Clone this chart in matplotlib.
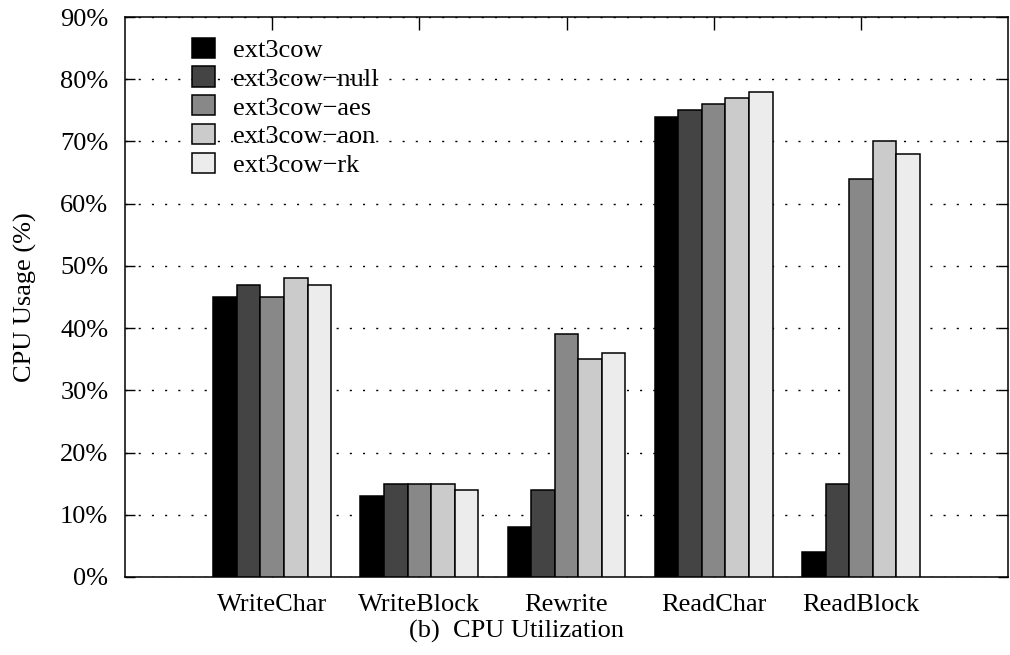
import numpy as np
import matplotlib
matplotlib.use('Agg')
import matplotlib.pyplot as plt

plt.rcParams['font.family'] = ['Liberation Serif', 'DejaVu Serif']

# 测试项与文件系统变体
categories = ['WriteChar', 'WriteBlock', 'Rewrite', 'ReadChar', 'ReadBlock']
systems = ['ext3cow', 'ext3cow\u2212null', 'ext3cow\u2212aes', 'ext3cow\u2212aon', 'ext3cow\u2212rk']
colors = ['#000000', '#444444', '#888888', '#cbcbcb', '#ececec']

# CPU 占用率 (%)
ext3cow = [45, 13, 8, 74, 4]
ext3cow_null = [47, 15, 14, 75, 15]
ext3cow_aes = [45, 15, 39, 76, 64]
ext3cow_aon = [48, 15, 35, 77, 70]
ext3cow_rk = [47, 14, 36, 78, 68]
series = [ext3cow, ext3cow_null, ext3cow_aes, ext3cow_aon, ext3cow_rk]

yticks = np.arange(0, 91, 10)
ytick_labels = ['%d%%' % v for v in yticks]

fs = 19
fig = plt.figure(figsize=(10.1, 6.55), dpi=100)
ax = fig.add_axes([0.1238, 0.1191, 0.8742, 0.8549])

x = np.arange(1, len(categories) + 1)
width = 0.16
for i, (vals, name, c) in enumerate(zip(series, systems, colors)):
    ax.bar(x + (i - 2) * width, vals, width, color=c, edgecolor='black',
           linewidth=1.1, label=name, zorder=3)

ax.set_xlim(0, 6)
ax.set_ylim(0, 90)
ax.set_yticks(yticks)
ax.set_yticklabels(ytick_labels, fontsize=fs)
ax.set_xticks(x)
ax.set_xticklabels(categories, fontsize=fs)

# 网格线（点线）
for v in yticks:
    ax.axhline(v, color='black', linewidth=1.0, linestyle=(0, (1.5, 8)), zorder=1)

ax.tick_params(axis='y', direction='in', length=7.5, width=1.0, pad=12,
               left=True, right=True)
ax.tick_params(axis='x', direction='in', length=9, width=1.0, pad=12,
               bottom=True, top=True)
for s in ax.spines.values():
    s.set_linewidth(1.1)

ax.set_ylabel('CPU Usage (%)', fontsize=fs, labelpad=17)
fig.text(0.511, 0.036, '(b)  CPU Utilization', fontsize=fs, ha='center', va='center')

ax.legend(loc='upper left', bbox_to_anchor=(0.076, 0.963), frameon=False,
          fontsize=fs, handlelength=0.85, handleheight=0.8, handletextpad=0.7,
          labelspacing=0.17, borderaxespad=0, borderpad=0)

fig.savefig('out.png', dpi=100)
